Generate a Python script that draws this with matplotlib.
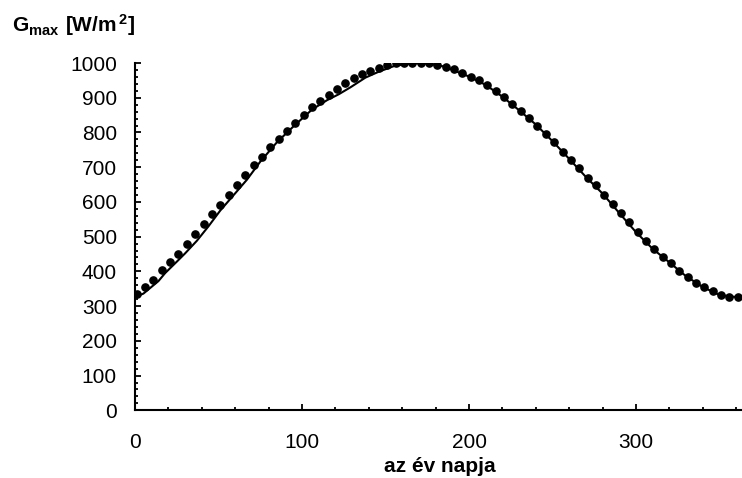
import matplotlib
matplotlib.use('Agg')
import matplotlib.pyplot as plt
from matplotlib.ticker import MultipleLocator

plt.rcParams['font.family'] = ['Liberation Sans', 'DejaVu Sans']
plt.rcParams['mathtext.fontset'] = 'custom'
plt.rcParams['mathtext.rm'] = 'Liberation Sans'
plt.rcParams['mathtext.bf'] = 'Liberation Sans:bold'

# measured values, every 5th day
meas_days = list(range(1, 362, 5))
meas_vals = [335, 355, 376, 403, 428, 451, 479, 507, 536, 565,
             592, 620, 649, 677, 705, 730, 757, 781, 805, 827,
             850, 873, 891, 908, 926, 943, 957, 968, 978, 985,
             994, 1000, 1001, 1001, 1001, 1000, 995, 988, 982, 972,
             960, 950, 936, 920, 902, 883, 862, 843, 820, 797,
             772, 745, 722, 698, 670, 649, 620, 594, 568, 541,
             512, 488, 464, 441, 425, 402, 385, 366, 354, 344,
             332, 327, 327]

# model curve
model_days = [0, 5, 9, 14, 18, 25, 30, 37, 44, 51, 60, 67, 75, 85, 95,
              106, 115, 122, 129, 138, 146, 155, 165, 175,
              185, 200, 210, 220, 230, 240, 250, 260, 270, 280, 290,
              300, 310, 320, 330, 340, 350, 360, 365]
model_vals = [326, 336, 352, 372, 395, 428, 452, 488, 530, 575, 625, 664, 716, 772, 818,
              866, 893, 910, 930, 958, 975, 991, 999, 999,
              990, 961, 937, 903, 864, 823, 775, 724, 672, 624, 568,
              513, 465, 426, 386, 355, 332, 326, 325]

fig = plt.figure(figsize=(7.42, 4.78), dpi=100)
ax = fig.add_axes([0.182, 0.1416, 0.8214, 0.7266])

ax.plot(model_days, model_vals, color='black', lw=1.5, zorder=2)
ax.plot(meas_days, meas_vals, 'o', color='black', ms=5.2, zorder=3)

ax.set_xlim(0, 365)
ax.set_ylim(0, 1000)
ax.xaxis.set_major_locator(MultipleLocator(100))
ax.xaxis.set_minor_locator(MultipleLocator(20))
ax.yaxis.set_major_locator(MultipleLocator(100))
ax.yaxis.set_minor_locator(MultipleLocator(20))

for s in ['top', 'right']:
    ax.spines[s].set_visible(False)
for s in ['left', 'bottom']:
    ax.spines[s].set_linewidth(1.5)

ax.tick_params(which='both', direction='in', width=1.3, labelsize=15)
ax.tick_params(which='major', length=4)
ax.tick_params(which='minor', length=2.5)
ax.tick_params(axis='x', which='major', pad=16)
ax.tick_params(axis='y', which='major', pad=13)

ax.set_xlabel('az év napja', fontsize=15, fontweight='bold', labelpad=4)
fig.text(0.016, 0.933, r'$\mathbf{G_{max}\ [W/m^{\,2}]}$', fontsize=15,
         ha='left', va='baseline')

fig.savefig('out.png', dpi=100)
